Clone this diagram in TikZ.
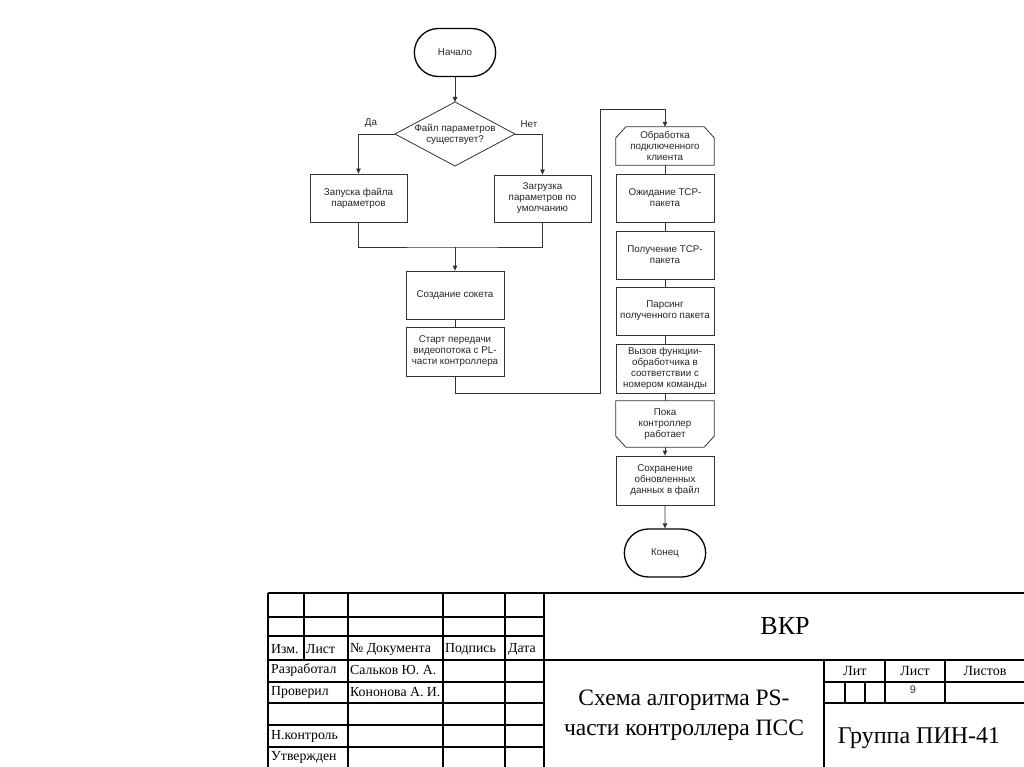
\documentclass[tikz,border=0pt]{standalone}
\usepackage{fontspec}
\setmainfont{Liberation Serif}
\newfontfamily\arialf{Liberation Sans}
\usetikzlibrary{arrows.meta,shapes.geometric,shapes.misc}
\begin{document}
\begin{tikzpicture}[x=1pt,y=-1pt,
  fc/.style={font=\arialf\fontsize{9.8}{11}\selectfont, align=center, text=black!85},
  box/.style={fc, draw=black!80, line width=0.8pt, minimum width=98pt, inner sep=1pt},
  plain/.style={fc, draw=none, minimum width=98pt, inner sep=1pt},
  term/.style={fc, draw=black, line width=1.3pt, rounded rectangle, minimum width=88pt, minimum height=48pt},
  ln/.style={draw=black!80, line width=0.8pt},
  arr/.style={ln, -{Triangle[length=5pt,width=4.5pt]}},
  tb/.style={draw=black, line width=1.4pt},
  tt/.style={font=\fontsize{13.8}{15}\selectfont, anchor=west, inner sep=0pt},
  hd/.style={font=\fontsize{14}{15}\selectfont, inner sep=0pt},
]
\useasboundingbox[fill=white] (0,0) rectangle (1024,767);

% ---------- flowchart left ----------
\node[term] (st) at (455,52.5) {Начало};
\node[fc, inner sep=0pt] (dec) at (455,134) {Файл параметров\\существует?};
\coordinate (dN) at (455,102);
\coordinate (dS) at (455,166);
\coordinate (dW) at (395,134);
\coordinate (dE) at (515,134);
\draw[ln] (dN) -- (dE) -- (dS) -- (dW) -- cycle;
\node[box, minimum width=97pt, minimum height=48pt] (yes) at (358.5,198) {Запуска файла\\параметров};
\node[box, minimum width=97pt, minimum height=47pt] (no) at (542.5,198.5) {Загрузка\\параметров по\\умолчанию};
\node[box, minimum height=48pt] (sock) at (455,295) {Создание сокета};
\node[box, minimum height=49pt] (sv) at (455,351.5) {Старт передачи\\видеопотока с PL-\\части контроллера};

\draw[arr] (st.south) -- (dN);
\draw[arr] (dW) -| (yes.north);
\draw[arr] (dE) -| (no.north);
\node[fc, anchor=south] (da) at (371,131) {Да};
\node[fc, anchor=south] (net) at (529,131) {Нет};
\coordinate (m) at (455,247);
\draw[ln] (yes.south) |- (m) -| (no.south);
\draw[arr] (m) -- (sock.north);
\draw[ln] (sock) -- (sv);

% ---------- flowchart right ----------
\node[plain, minimum height=38pt] (ls) at (665,146) {Обработка\\подключенного\\клиента};
\draw[ln] ([xshift=10pt]ls.north west) -- ([xshift=-10pt]ls.north east) -- ([yshift=-11pt]ls.north east) -- (ls.south east) -- (ls.south west) -- ([yshift=-11pt]ls.north west) -- cycle;
\node[box, minimum height=48pt] (w) at (665,198) {Ожидание TCP-\\пакета};
\node[box, minimum height=48pt] (r) at (665,255) {Получение TCP-\\пакета};
\node[box, minimum height=48pt] (p) at (665,311) {Парсинг\\полученного пакета};
\node[box, minimum height=49pt] (c) at (665,368.5) {Вызов функции-\\обработчика в\\соответствии с\\номером команды};
\node[plain, minimum height=46pt] (le) at (665,424) {Пока\\контроллер\\работает};
\draw[ln] (le.north west) -- (le.north east) -- ([yshift=11pt]le.south east) -- ([xshift=-10pt]le.south east) -- ([xshift=10pt]le.south west) -- ([yshift=11pt]le.south west) -- cycle;
\node[box, minimum height=49pt] (sv2) at (665,480.5) {Сохранение\\обновленных\\данных в файл};
\node[term] (en) at (665,553) {Конец};

\coordinate (c1) at (600,393);
\coordinate (c2) at (600,109);
\draw[arr] (sv.south) |- (c1) -- (c2) -| (ls.north);
\draw[ln] (ls) -- (w);
\draw[ln] (w) -- (r);
\draw[ln] (r) -- (p);
\draw[ln] (p) -- (c);
\draw[ln] (c) -- (le);
\draw[arr] (le) -- (sv2);
\draw[arr] (sv2) -- (en);

% ---------- title block ----------
\draw[tb] (268,593) -- (1024,593);
\draw[tb] (268,593) -- (268,767);
\foreach \yy in {617,636,682,703,725,747} \draw[tb] (268,\yy) -- (544,\yy);
\draw[tb] (268,660) -- (1024,660);
\draw[tb] (304,593) -- (304,660);
\foreach \xx in {348,443,505,544} \draw[tb] (\xx,593) -- (\xx,767);
\draw[tb] (824,660) -- (824,767);
\draw[tb] (824,682) -- (1024,682);
\draw[tb] (824,703) -- (1024,703);
\draw[tb] (885,660) -- (885,703);
\draw[tb] (945,660) -- (945,703);
\draw[tb] (845,682) -- (845,703);
\draw[tb] (865,682) -- (865,703);

\node[tt] (t1) at (271,649) {Изм.};
\node[tt] (t2) at (306,649) {Лист};
\node[tt] (t3) at (350,649) {№ Документа};
\node[tt] (t4) at (445,649) {Подпись};
\node[tt] (t5) at (508,649) {Дата};
\node[tt] (t6) at (271,670.5) {Разработал};
\node[tt] (t7) at (350,670.5) {Сальков Ю. А.};
\node[tt] (t8) at (271,692) {Проверил};
\node[tt] (t9) at (350,692) {Кононова А. И.};
\node[tt] (t10) at (271,736) {Н.контроль};
\node[tt] (t11) at (271,757) {Утвержден};

\node[font=\fontsize{26}{28}\selectfont, inner sep=0pt] (vkr) at (785,626) {ВКР};
\node[font=\fontsize{23.5}{30}\selectfont, align=center, inner sep=0pt] (nm) at (684,715) {Схема алгоритма PS-\\части контроллера ПСС};
\node[hd] (lit) at (855,671) {Лит};
\node[hd] (lst) at (915,671) {Лист};
\node[hd] (lsts) at (985,671) {Листов};
\node[font=\arialf\fontsize{11}{12}\selectfont, inner sep=0pt, text=black!80] (nine) at (913,690) {9};
\node[font=\fontsize{24}{28}\selectfont, inner sep=0pt] (grp) at (919,738) {Группа ПИН-41};
\end{tikzpicture}
\end{document}
